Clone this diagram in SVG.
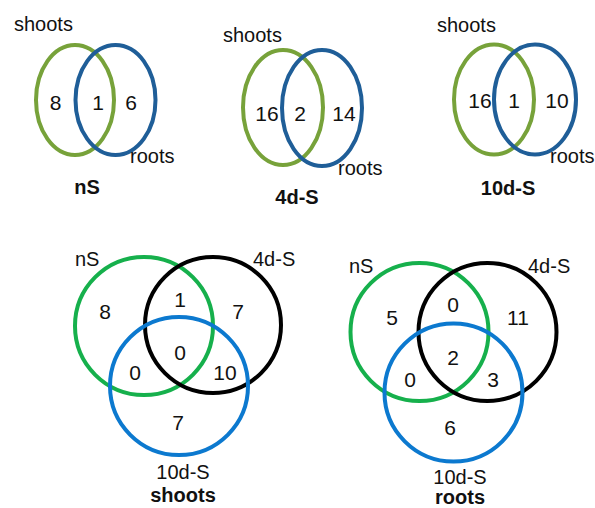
<svg xmlns="http://www.w3.org/2000/svg" width="595" height="508" viewBox="0 0 595 508">
  <style>
    text { font-family: "Liberation Sans", Arial, sans-serif; font-size: 20px; fill: #111; }
    .c { text-anchor: middle; }
    .n { font-size: 21px; }
    .b { font-weight: bold; }
    .ring { fill: none; stroke-width: 4; }
    .gO { stroke: #77a23a; }
    .bD { stroke: #1f5e98; }
    .gB { stroke: #16b04c; }
    .bB { stroke: #0c79cf; }
    .k  { stroke: #000; }
  </style>

  <!-- Two-set diagrams: shoots vs roots -->
  <g id="venn-nS">
    <ellipse class="ring gO" cx="75" cy="100" rx="39" ry="55"/>
    <ellipse class="ring bD" cx="115.5" cy="100" rx="40" ry="55"/>
    <text x="14" y="31">shoots</text>
    <text x="130" y="163">roots</text>
    <text class="c n" x="55.5" y="110">8</text>
    <text class="c n" x="98" y="110">1</text>
    <text class="c n" x="131" y="110">6</text>
    <text class="c b" x="87" y="194">nS</text>
  </g>

  <g id="venn-4d-S">
    <ellipse class="ring gO" cx="283" cy="107.5" rx="40" ry="57.5"/>
    <ellipse class="ring bD" cx="322" cy="108" rx="40" ry="58"/>
    <text x="223" y="42">shoots</text>
    <text x="338" y="175">roots</text>
    <text class="c n" x="267" y="121">16</text>
    <text class="c n" x="300" y="121">2</text>
    <text class="c n" x="344" y="121">14</text>
    <text class="c b" x="297" y="204">4d-S</text>
  </g>

  <g id="venn-10d-S">
    <ellipse class="ring gO" cx="494" cy="99.5" rx="40" ry="55"/>
    <ellipse class="ring bD" cx="535" cy="99.5" rx="41" ry="55"/>
    <text x="437" y="32">shoots</text>
    <text x="550" y="163">roots</text>
    <text class="c n" x="480" y="108">16</text>
    <text class="c n" x="514" y="108">1</text>
    <text class="c n" x="557" y="108">10</text>
    <text class="c b" x="508" y="195">10d-S</text>
  </g>

  <!-- Three-set diagrams: nS / 4d-S / 10d-S -->
  <g id="venn-shoots">
    <circle class="ring gB" cx="144" cy="326" r="69"/>
    <circle class="ring k" cx="213" cy="325" r="68"/>
    <circle class="ring bB" cx="179" cy="386" r="69"/>
    <text x="75" y="266">nS</text>
    <text x="253" y="266">4d-S</text>
    <text class="c n" x="105" y="319">8</text>
    <text class="c n" x="180" y="307">1</text>
    <text class="c n" x="238" y="319">7</text>
    <text class="c n" x="180" y="360">0</text>
    <text class="c n" x="135" y="380">0</text>
    <text class="c n" x="225" y="380">10</text>
    <text class="c n" x="178" y="430">7</text>
    <text class="c" x="183" y="479">10d-S</text>
    <text class="c b" x="183" y="502">shoots</text>
  </g>

  <g id="venn-roots">
    <circle class="ring gB" cx="419.5" cy="332" r="69"/>
    <circle class="ring k" cx="487.5" cy="332" r="69"/>
    <circle class="ring bB" cx="453.5" cy="392.5" r="69"/>
    <text x="349" y="273">nS</text>
    <text x="528" y="273">4d-S</text>
    <text class="c n" x="392" y="325">5</text>
    <text class="c n" x="453" y="312">0</text>
    <text class="c n" x="518" y="325">11</text>
    <text class="c n" x="453" y="365">2</text>
    <text class="c n" x="410" y="387">0</text>
    <text class="c n" x="493" y="387">3</text>
    <text class="c n" x="450" y="435">6</text>
    <text class="c" x="460" y="484">10d-S</text>
    <text class="c b" x="460" y="504">roots</text>
  </g>
</svg>
